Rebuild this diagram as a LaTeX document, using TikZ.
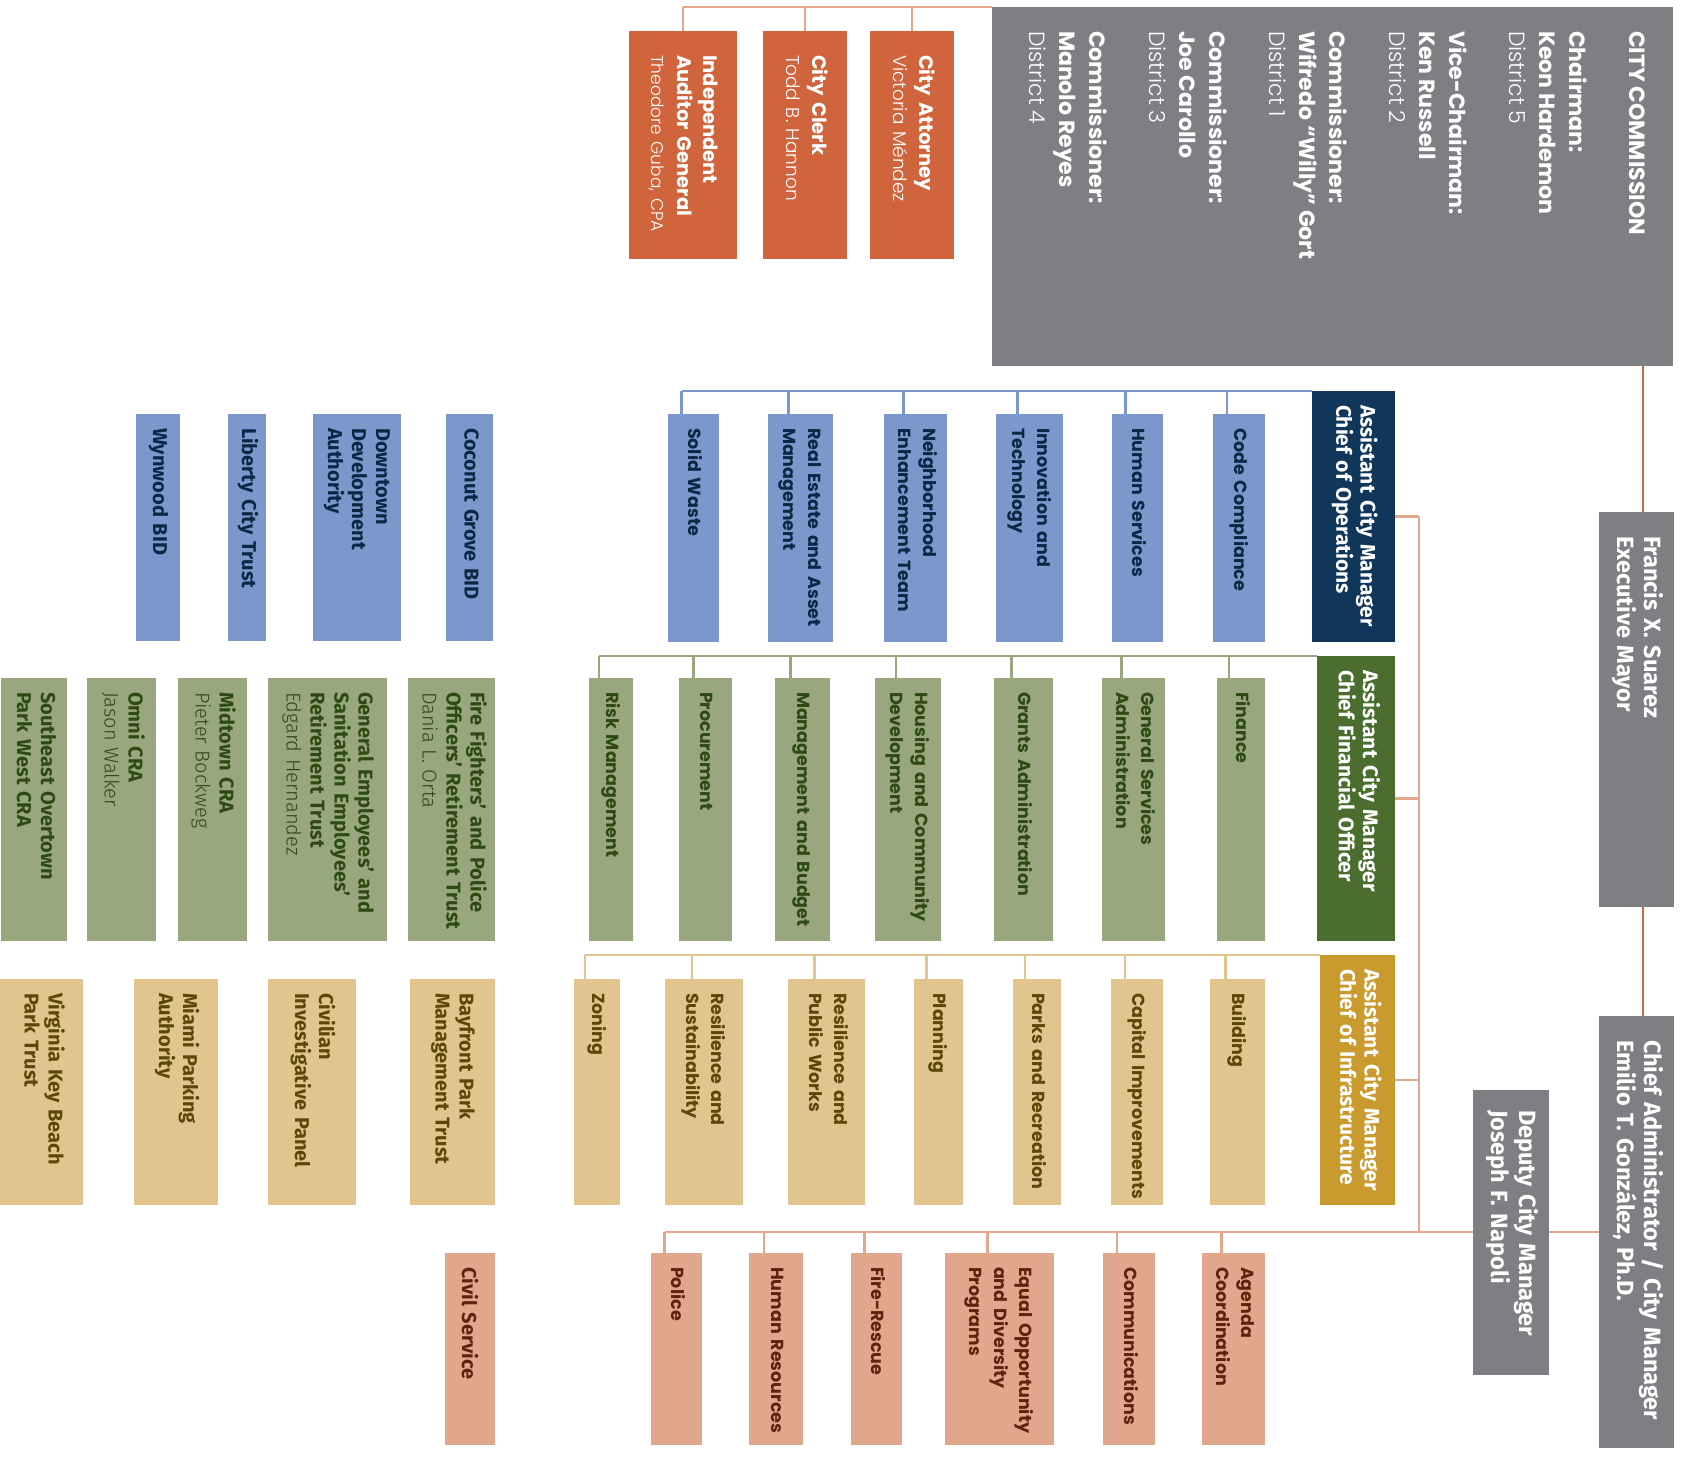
\documentclass[tikz,border=0pt]{standalone}
\usepackage{fontspec}
\setmainfont{Fira Sans}
\newfontfamily\lightfont{Fira Sans Light}
\newfontfamily\geofont{Poppins}
\newfontfamily\geolight{Poppins Light}
\usetikzlibrary{calc,backgrounds}

\definecolor{ccgray}{HTML}{7E7F83}
\definecolor{cityorange}{HTML}{D0653D}
\definecolor{toporange}{HTML}{E3A78C}
\definecolor{opsnavy}{HTML}{10365A}
\definecolor{opsblue}{HTML}{7B97CC}
\definecolor{opsink}{HTML}{0B2744}
\definecolor{cfogreen}{HTML}{4B6D2F}
\definecolor{cfolight}{HTML}{98A77E}
\definecolor{cfoink}{HTML}{2C4A12}
\definecolor{infgold}{HTML}{C99B2E}
\definecolor{inftan}{HTML}{E2C48F}
\definecolor{infink}{HTML}{5B4806}
\definecolor{mgrsalmon}{HTML}{E0A78C}
\definecolor{mgrink}{HTML}{5C2410}

\newcommand\lightname[1]{{\lightfont\mdseries #1}}
\newcommand\geoname[1]{{\geolight\mdseries #1}}

\tikzset{
  orgbox/.style={rotate=-90, anchor=north west, outer sep=0pt,
    inner xsep=14pt, inner ysep=0pt, minimum width=0pt, align=left,
    font=\bfseries\fontsize{20}{24}\selectfont},
  headbox/.style={orgbox, inner xsep=24pt, text=white,
    font=\bfseries\fontsize{23.5}{27}\selectfont},
  topbox/.style={orgbox, inner xsep=24pt, text=white, fill=cityorange,
    font=\geofont\bfseries\fontsize{19.5}{26}\selectfont},
  bossbox/.style={orgbox, text=white, font=\bfseries\fontsize{21}{24}\selectfont},
  geodept/.style={font=\geofont\bfseries\fontsize{17.5}{25}\selectfont},
  opsdept/.style={orgbox, fill=opsblue, text=opsink},
  cfodept/.style={orgbox, fill=cfolight, text=cfoink},
  infdept/.style={orgbox, fill=inftan, text=infink},
  mgrdept/.style={orgbox, fill=mgrsalmon, text=mgrink},
  toplink/.style={draw=toporange, line width=2.5pt},
  mayorlink/.style={draw=cityorange, line width=2.5pt},
  mgrlink/.style={draw=toporange, line width=2.5pt},
  opslink/.style={draw=opsblue, line width=2.5pt},
  cfolink/.style={draw=cfolight, line width=2.5pt},
  inflink/.style={draw=inftan, line width=2.5pt}
}

\begin{document}
\begin{tikzpicture}[x=1pt, y=-1pt]
  \useasboundingbox (0,0) rectangle (1683,1460);

  % city commission and its appointees:
  \node[topbox, fill=ccgray, inner ysep=28pt, minimum height=681pt] (cc) at (1673,7)
    {\parbox[c][625pt][t]{311pt}{\raggedright\fontsize{22}{30}\selectfont
      CITY COMMISSION\\[30pt]
      Chairman:\\Keon Hardemon\\\geoname{District 5}\\[30pt]
      Vice-Chairman:\\Ken Russell\\\geoname{District 2}\\[30pt]
      Commissioner:\\Wifredo “Willy” Gort\\\geoname{District 1}\\[30pt]
      Commissioner:\\Joe Carollo\\\geoname{District 3}\\[30pt]
      Commissioner:\\Manolo Reyes\\\geoname{District 4}}};
  \node[topbox, minimum height=108pt, text width=180pt] (aud) at (737,31)
    {\begin{tabular}{@{}l@{}}Independent\\Auditor General\\
      \geoname{\fontsize{17}{26}\selectfont Theodore Guba, CPA}\end{tabular}};
  \node[topbox, minimum height=84pt, text width=180pt] (clk) at (847,31)
    {\begin{tabular}{@{}l@{}}City Clerk\\\geoname{\fontsize{18.5}{26}\selectfont Todd B. Hannon}\end{tabular}};
  \node[topbox, minimum height=84pt, text width=180pt] (atty) at (954,31)
    {\begin{tabular}{@{}l@{}}City Attorney\\\geoname{\fontsize{18.5}{26}\selectfont Victoria Méndez}\end{tabular}};

  % mayor, manager and deputy:
  \node[headbox, fill=ccgray, minimum height=75pt, text width=347pt] (mayor) at (1674,512)
    {\begin{tabular}{@{}l@{}}Francis X. Suarez\\Executive Mayor\end{tabular}};
  \node[headbox, fill=ccgray, minimum height=75pt, text width=384pt] (mgr) at (1674,1016)
    {\begin{tabular}{@{}l@{}}Chief Administrator / City Manager\\Emilio T. González, Ph.D.\end{tabular}};
  \node[headbox, fill=ccgray, inner xsep=20pt, minimum height=76pt, text width=245pt] (dep) at (1549,1090)
    {\begin{tabular}{@{}l@{}}Deputy City Manager\\Joseph F. Napoli\end{tabular}};

  % assistant city managers:
  \node[bossbox, fill=opsnavy, minimum height=83pt, text width=223pt] (ops) at (1395,391)
    {\begin{tabular}{@{}l@{}}Assistant City Manager\\Chief of Operations\end{tabular}};
  \node[bossbox, fill=cfogreen, minimum height=78pt, text width=257pt] (cfo) at (1395,656)
    {\begin{tabular}{@{}l@{}}Assistant City Manager\\Chief Financial Officer\end{tabular}};
  \node[bossbox, fill=infgold, minimum height=75pt, text width=222pt] (infra) at (1395,955)
    {\begin{tabular}{@{}l@{}}Assistant City Manager\\Chief of Infrastructure\end{tabular}};

  % departments under operations:
  \foreach \nm/\xl/\xr/\txt in {
      dsw/668/719/{Solid Waste},
      drea/768/833/{Real Estate and Asset\\Management},
      dnet/884/947/{Neighborhood\\Enhancement Team},
      dit/996/1063/{Innovation and\\Technology},
      dhs/1112/1163/{Human Services},
      dcode/1213/1265/{Code Compliance}} {
    \pgfmathsetmacro\bw{\xr-\xl}
    \node[opsdept, geodept, minimum height=\bw pt, text width=200pt] (\nm) at (\xr,414)
      {\begin{tabular}{@{}l@{}}\txt\end{tabular}};
    \coordinate (\nm-drop) at ($(\nm.west)+(-12,0)$);
  }

  % departments under the CFO:
  \foreach \nm/\xl/\xr/\txt in {
      drisk/589/633/{Risk Management},
      dproc/679/732/{Procurement},
      dmb/775/830/{Management and Budget},
      dhcd/875/941/{Housing and Community\\Development},
      dgrant/994/1053/{Grants Administration},
      dgsa/1102/1165/{General Services\\Administration},
      dfin/1217/1265/{Finance}} {
    \pgfmathsetmacro\bw{\xr-\xl}
    \node[cfodept, geodept, minimum height=\bw pt, text width=235pt] (\nm) at (\xr,678)
      {\begin{tabular}{@{}l@{}}\txt\end{tabular}};
    \coordinate (\nm-drop) at ($(\nm.west)+(-12,0)$);
  }

  % departments under infrastructure:
  \foreach \nm/\xl/\xr/\txt in {
      dzon/574/620/{Zoning},
      drs/665/743/{Resilience and\\Sustainability},
      drpw/788/865/{Resilience and\\Public Works},
      dplan/914/963/{Planning},
      dpark/1013/1061/{Parks and Recreation},
      dcip/1111/1163/{Capital Improvements},
      dbld/1210/1265/{Building}} {
    \pgfmathsetmacro\bw{\xr-\xl}
    \node[infdept, geodept, minimum height=\bw pt, text width=198pt] (\nm) at (\xr,979)
      {\begin{tabular}{@{}l@{}}\txt\end{tabular}};
    \coordinate (\nm-drop) at ($(\nm.west)+(-12,0)$);
  }

  % departments under the manager:
  \foreach \nm/\xl/\xr/\txt in {
      dpol/651/702/{Police},
      dhr/749/803/{Human Resources},
      dfire/851/902/{Fire-Rescue},
      deo/945/1054/{Equal Opportunity\\and Diversity\\Programs},
      dcom/1103/1155/{Communications},
      dagenda/1202/1265/{Agenda\\Coordination}} {
    \pgfmathsetmacro\bw{\xr-\xl}
    \node[mgrdept, geodept, minimum height=\bw pt, text width=164pt] (\nm) at (\xr,1253)
      {\begin{tabular}{@{}l@{}}\txt\end{tabular}};
    \coordinate (\nm-drop) at ($(\nm.west)+(-12,0)$);
  }

  % boards, trusts and agencies:
  \foreach \nm/\xl/\xr/\txt in {
      bwyn/136/180/{Wynwood BID},
      blib/228/266/{Liberty City Trust},
      bdda/313/401/{Downtown\\Development\\Authority},
      bcg/446/493/{Coconut Grove BID}} {
    \pgfmathsetmacro\bw{\xr-\xl}
    \node[opsdept, minimum height=\bw pt, text width=199pt] (\nm) at (\xr,414)
      {\begin{tabular}{@{}l@{}}\txt\end{tabular}};
  }
  \foreach \nm/\xl/\xr/\txt in {
      gseo/1/67/{Southeast Overtown\\Park West CRA},
      gomni/87/156/{Omni CRA\\\lightname{Jason Walker}},
      gmid/178/247/{Midtown CRA\\\lightname{Pieter Bockweg}},
      ggesa/268/387/{General Employees’ and\\Sanitation Employees’\\Retirement Trust\\\lightname{Edgard Hernandez}},
      gff/408/495/{Fire Fighters’ and Police\\Officers’ Retirement Trust\\\lightname{Dania L. Orta}}} {
    \pgfmathsetmacro\bw{\xr-\xl}
    \node[cfodept, minimum height=\bw pt, text width=235pt] (\nm) at (\xr,678)
      {\begin{tabular}{@{}l@{}}\txt\end{tabular}};
  }
  \foreach \nm/\xl/\xr/\txt in {
      tvk/0/83/{Virginia Key Beach\\Park Trust},
      tmpa/134/218/{Miami Parking\\Authority},
      tcip/268/356/{Civilian\\Investigative Panel},
      tbay/410/495/{Bayfront Park\\Management Trust}} {
    \pgfmathsetmacro\bw{\xr-\xl}
    \node[infdept, minimum height=\bw pt, text width=198pt] (\nm) at (\xr,979)
      {\begin{tabular}{@{}l@{}}\txt\end{tabular}};
  }
  \node[mgrdept, minimum height=50pt, text width=164pt] (csv) at (495,1253) {Civil Service};

  % connectors behind the boxes:
  \begin{scope}[on background layer]
    \draw[toplink] (cc.south west) -- (aud.west |- cc.south west);
    \foreach \b in {aud,clk,atty}
      \draw[toplink] (\b.west) -- (\b.west |- cc.south west);
    \coordinate (spine) at (1643,0);
    \draw[mayorlink] (spine |- cc.east) -- (spine |- mayor.west);
    \draw[mayorlink] (spine |- mayor.east) -- (spine |- mgr.west);
    \coordinate (trunk) at (1419,0);
    \draw[mgrlink] (mgr.south) -- (dpol-drop |- mgr.south);
    \draw[mgrlink] (trunk |- mgr.south) -- (trunk |- ops.north);
    \foreach \b in {ops,cfo,infra}
      \draw[mgrlink] (\b.north) -- (trunk |- \b.north);
    \foreach \b in {dpol,dhr,dfire,deo,dcom,dagenda}
      \draw[mgrlink] (\b-drop) -- (\b-drop |- mgr.south);
    \draw[opslink] (ops.south west) -- (dsw-drop |- ops.south west);
    \foreach \b in {dsw,drea,dnet,dit,dhs,dcode}
      \draw[opslink] (\b-drop) -- (\b-drop |- ops.south west);
    \draw[cfolink] (cfo.south west) -- (drisk-drop |- cfo.south west);
    \foreach \b in {drisk,dproc,dmb,dhcd,dgrant,dgsa,dfin}
      \draw[cfolink] (\b-drop) -- (\b-drop |- cfo.south west);
    \draw[inflink] (infra.south west) -- (dzon-drop |- infra.south west);
    \foreach \b in {dzon,drs,drpw,dplan,dpark,dcip,dbld}
      \draw[inflink] (\b-drop) -- (\b-drop |- infra.south west);
  \end{scope}
\end{tikzpicture}
\end{document}
